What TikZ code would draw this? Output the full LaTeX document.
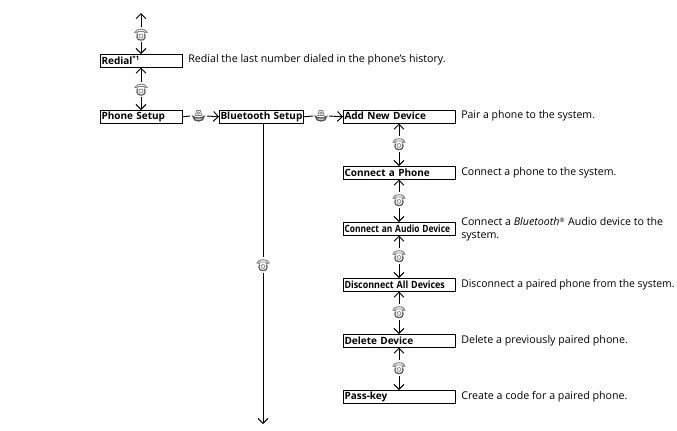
\documentclass[tikz,border=0pt]{standalone}
\usepackage{fontspec}
\usepackage{graphicx}
\setmainfont{Open Sans}
\usetikzlibrary{arrows.meta,positioning}
\tikzset{
  menubox/.style={draw=black,line width=0.75pt,minimum height=9.4pt,inner sep=0pt,anchor=north west,font=\fontsize{7.5pt}{8pt}\selectfont\bfseries,align=left},
  desc/.style={anchor=west,inner sep=0pt,font=\fontsize{8pt}{9.6pt}\selectfont,align=left,text=black},
  flow/.style={line width=0.7pt,-{Straight Barb[length=3.75pt,width=7.5pt]}},
  plain/.style={line width=0.7pt},
  anchorpt/.style={inner sep=0pt,minimum size=0pt},
  iconphone/.pic={
    \draw[black!50,line width=0.7pt] (-6,-2) .. controls (-5,-6.5) and (5,-6.5) .. (6,-2) -- (3.5,-1.5) -- (3,-3) -- (-3,-3) -- (-3.5,-1.5) -- cycle;
    \draw[black!65,line width=0.9pt] (-3.6,-0.5) .. controls (-5,4) and (-3,5.5) .. (0,5.5) .. controls (3,5.5) and (5,4) .. (3.6,-0.5);
    \draw[black!45,line width=0.6pt] (0,1.5) circle (2);
  },
  icondial/.pic={
    \draw[black!50,line width=0.6pt] (-1.8,-5.5) -- (1.8,-5.5) -- (3.2,-0.5) -- (-3.2,-0.5) -- cycle;
    \draw[black!50,line width=0.5pt] (0,-2.8) circle (1.3);
    \draw[black!70,line width=0.9pt,fill=black!20] (-5.5,0.5) .. controls (-5.5,6.5) and (5.5,6.5) .. (5.5,0.5) .. controls (3,2.5) and (-3,2.5) .. (-5.5,0.5) -- cycle;
  },
}
\newcommand{\boxlabel}[1]{\raisebox{1.1pt}{#1}}
\begin{document}
\begin{tikzpicture}[x=0.75pt,y=-0.75pt]
\useasboundingbox (0,0) rectangle (677,430);
% top
\coordinate (topend) at (141,13);
\node[anchorpt] (ic0) at (141,34.5) {};
\pic at (141,34.5) {iconphone};
\node[menubox,text width=61.5pt] (redial) at (100,54) {\hspace{0.75pt}\boxlabel{Redial\textsuperscript{\fontsize{4.5pt}{5pt}\selectfont*1}}};
\node[desc] (dredial) at (188,60) {Redial the last number dialed in the phone’s history.};
\node[anchorpt] (ic1) at (141,89.5) {};
\pic at (141,89.5) {iconphone};
\node[menubox,text width=61.5pt] (phone) at (100,110) {\hspace{0.75pt}\boxlabel{Phone Setup}};
\node[anchorpt] (ic2) at (198.5,116) {};
\pic at (198.5,116) {icondial};
\node[menubox,text width=63pt] (bt) at (219,110) {\hspace{0.75pt}\boxlabel{Bluetooth Setup}};
\node[anchorpt] (ic3) at (321,116) {};
\pic at (321,116) {icondial};
\node[menubox,text width=84pt] (add) at (343,110) {\hspace{0.75pt}\boxlabel{Add New Device}};
\node[desc] at (461,116) {\scalebox{0.985}[1]{Pair a phone to the system.}};
\node[menubox,text width=84pt] (conn) at (343,166) {\hspace{0.75pt}Connect a Phone};
\node[desc] at (461,173) {\scalebox{0.985}[1]{Connect a phone to the system.}};
\node[menubox,text width=84pt] (audio) at (343,222) {\hspace{0.75pt}\scalebox{0.84}[1]{Connect an Audio Device}};
\node[desc] at (461,229.5) {Connect a \textit{Bluetooth}\textsuperscript{\fontsize{4.5pt}{5pt}\selectfont®} Audio device to the\\system.};
\node[menubox,text width=84pt] (disc) at (343,278) {\hspace{0.75pt}\scalebox{0.89}[1]{Disconnect All Devices}};
\node[desc] at (461,285) {\scalebox{0.97}[1]{Disconnect a paired phone from the system.}};
\node[menubox,text width=84pt] (del) at (343,334) {\hspace{0.75pt}\raisebox{0.5pt}{Delete Device}};
\node[desc] at (461,341) {Delete a previously paired phone.};
\node[menubox,text width=84pt] (pass) at (343,390) {\hspace{0.75pt}\raisebox{0.5pt}{Pass-key}};
\node[desc] at (461,397) {Create a code for a paired phone.};
\foreach \n/\y in {a/144,b/200,c/256,d/312,e/368}{
  \node[anchorpt] (v\n) at (399,\y) {};
  \pic at (399,\y) {iconphone};
}
\node[anchorpt] (ic4) at (263,265) {};
\pic at (263,265) {iconphone};
\coordinate (botend) at (263,424);
% connectors
\draw[flow] (141,27) -- (topend);
\draw[flow] (141,42) -- (redial.north -| 141,0);
\draw[flow] (141,82) -- (redial.south -| 141,0);
\draw[flow] (141,97) -- (phone.north -| 141,0);
\draw[plain] (phone.east) -- (190,116);
\draw[flow] (207,116) -- (bt.west);
\draw[plain] (bt.east) -- (313,116);
\draw[flow] (329,116) -- (add.west);
\foreach \a/\b/\n/\y in {add/conn/a/144,conn/audio/b/200,audio/disc/c/256,disc/del/d/312,del/pass/e/368}{
  \draw[flow] (399,\y-8) -- (\a.south -| 399,0);
  \draw[flow] (399,\y+8) -- (\b.north -| 399,0);
}
\draw[plain] (bt.south -| 263,0) -- (263,257);
\draw[flow] (263,273) -- (botend);
\end{tikzpicture}
\end{document}
